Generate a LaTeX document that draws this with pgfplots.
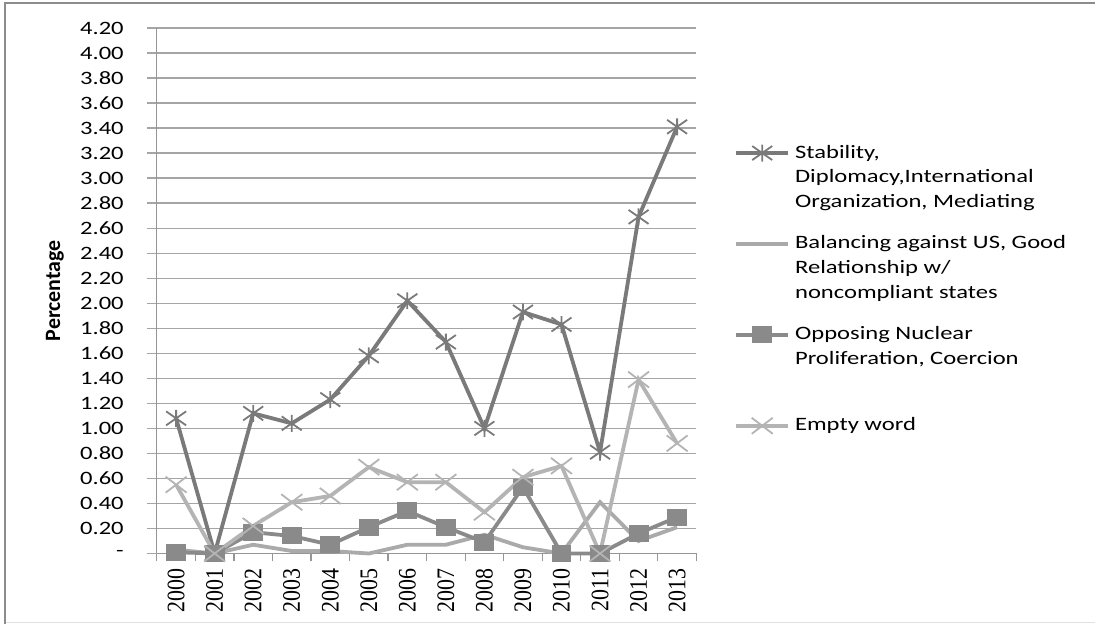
\documentclass[border=0pt]{standalone}
\usepackage{fontspec}
\setmainfont{Carlito}[FakeStretch=1.3]
\newfontfamily\ylfont{Carlito}
\newfontfamily\xfont{Liberation Serif}
\usepackage{graphicx}
\usepackage{pgfplots}
\pgfplotsset{compat=1.18}
\definecolor{cStab}{RGB}{122,122,122}
\definecolor{cBal}{RGB}{170,170,170}
\definecolor{cOpp}{RGB}{138,138,138}
\definecolor{cEmp}{RGB}{180,180,180}
\definecolor{gridC}{RGB}{165,165,165}
\definecolor{axisC}{RGB}{150,150,150}
\definecolor{frameC}{RGB}{140,140,140}
\definecolor{frameL}{RGB}{225,225,225}
\pgfdeclareplotmark{xstar}{%
  \pgfpathmoveto{\pgfqpoint{-10bp}{-7bp}}\pgfpathlineto{\pgfqpoint{10bp}{7bp}}%
  \pgfpathmoveto{\pgfqpoint{-10bp}{7bp}}\pgfpathlineto{\pgfqpoint{10bp}{-7bp}}%
  \pgfpathmoveto{\pgfqpoint{0bp}{-8.5bp}}\pgfpathlineto{\pgfqpoint{0bp}{8.5bp}}%
  \pgfusepathqstroke}
\pgfdeclareplotmark{xcross}{%
  \pgfpathmoveto{\pgfqpoint{-10.5bp}{-8bp}}\pgfpathlineto{\pgfqpoint{10.5bp}{8bp}}%
  \pgfpathmoveto{\pgfqpoint{-10.5bp}{8bp}}\pgfpathlineto{\pgfqpoint{10.5bp}{-8bp}}%
  \pgfusepathqstroke}
\pgfdeclareplotmark{rsq}{%
  \pgfpathrectangle{\pgfqpoint{-10bp}{-8.5bp}}{\pgfqpoint{20bp}{17bp}}%
  \pgfusepathqfill}
\newcommand{\yr}[1]{\scalebox{1}[1.15]{#1}}
\begin{document}
\begin{tikzpicture}
\fill[white] (0bp,0bp) rectangle (1096bp,625bp);
\draw[frameL, line width=1.5bp] (5bp,2bp) -- (1096bp,2bp);
\draw[frameC, line width=2bp] (5bp,0bp) -- (5bp,622bp) -- (1096bp,622bp);
\useasboundingbox (0bp,0bp) rectangle (1096bp,625bp);
\begin{axis}[
  at={(157bp,71bp)}, anchor=south west,
  scale only axis, width=540bp, height=526bp,
  xmin=-0.5, xmax=13.5, ymin=0, ymax=4.2,
  clip=false,
  axis x line=bottom, axis y line=left,
  axis line style={-, draw=axisC, line width=1.2bp},
  tick align=outside,
  major tick length=10bp, minor tick length=8bp,
  xtick={0,1,2,3,4,5,6,7,8,9,10,11,12,13},
  xticklabels={\yr{2000},\yr{2001},\yr{2002},\yr{2003},\yr{2004},\yr{2005},\yr{2006},\yr{2007},\yr{2008},\yr{2009},\yr{2010},\yr{2011},\yr{2012},\yr{2013}},
  minor xtick={-0.5,0.5,1.5,2.5,3.5,4.5,5.5,6.5,7.5,8.5,9.5,10.5,11.5,12.5,13.5},
  major x tick style={draw=none},
  minor x tick style={draw=axisC, line width=1.2bp},
  xticklabel shift=5bp,
  xticklabel style={rotate=90, anchor=east, inner sep=0pt, font=\xfont\fontsize{22}{24}\selectfont},
  ytick={0,0.2,0.4,0.6,0.8,1.0,1.2,1.4,1.6,1.8,2.0,2.2,2.4,2.6,2.8,3.0,3.2,3.4,3.6,3.8,4.0,4.2},
  yticklabels={-\hspace{10bp},0.20,0.40,0.60,0.80,1.00,1.20,1.40,1.60,1.80,2.00,2.20,2.40,2.60,2.80,3.00,3.20,3.40,3.60,3.80,4.00,4.20},
  yticklabel shift=23bp,
  yticklabel style={anchor=east, inner sep=0pt, font=\fontsize{19}{22}\selectfont},
  ytick style={draw=gridC, line width=1.3bp},
  ymajorgrids, major grid style={draw=gridC, line width=1.3bp},
  ylabel={Percentage},
  ylabel style={at={(axis description cs:-0.189,0.5)}, anchor=center, rotate=0, font=\ylfont\bfseries\fontsize{22}{24}\selectfont},
  legend cell align=left,
  legend style={at={(axis description cs:1.0704,0.781)}, anchor=north west, draw=none, fill=none,
    inner sep=0pt, outer sep=0pt, row sep=0pt, column sep=5bp,
    nodes={inner sep=0pt, anchor=base west, text height=15bp, text depth=76bp},
    font=\fontsize{19}{25}\selectfont},
  legend image code/.code={\draw[mark repeat=2, mark phase=2, #1] plot coordinates {(0bp,5bp) (26bp,5bp) (52bp,5bp)};},
]
\addplot[cStab, line width=3.8bp, mark=xstar, mark options={solid, line width=1.8bp, draw=cStab}]
 coordinates {(0,1.08) (1,0) (2,1.12) (3,1.04) (4,1.23) (5,1.58) (6,2.02) (7,1.69) (8,1.00) (9,1.93) (10,1.83) (11,0.81) (12,2.69) (13,3.41)};
\addlegendentry{\parbox[t]{300bp}{Stability,\\Diplomacy,International\\Organization, Mediating}}
\addplot[cBal, line width=3.8bp, mark=none]
 coordinates {(0,0.03) (1,0) (2,0.07) (3,0.02) (4,0.02) (5,0.00) (6,0.07) (7,0.07) (8,0.15) (9,0.05) (10,0) (11,0.41) (12,0.10) (13,0.21)};
\addlegendentry{\parbox[t]{300bp}{Balancing against US, Good\\Relationship w/\\noncompliant states}}
\addplot[cOpp, line width=3.8bp, mark=rsq, mark options={solid, fill=cOpp}]
 coordinates {(0,0.01) (1,0) (2,0.17) (3,0.14) (4,0.07) (5,0.21) (6,0.34) (7,0.21) (8,0.09) (9,0.53) (10,0) (11,0) (12,0.16) (13,0.29)};
\addlegendentry{\parbox[t]{300bp}{Opposing Nuclear\\Proliferation, Coercion}}
\addplot[cEmp, line width=3.8bp, mark=xcross, mark options={solid, line width=1.8bp, draw=cEmp}]
 coordinates {(0,0.55) (1,0) (2,0.22) (3,0.41) (4,0.46) (5,0.69) (6,0.57) (7,0.57) (8,0.33) (9,0.61) (10,0.70) (11,0) (12,1.39) (13,0.88)};
\addlegendentry{\parbox[t]{300bp}{Empty word}}
\end{axis}
\end{tikzpicture}
\end{document}
